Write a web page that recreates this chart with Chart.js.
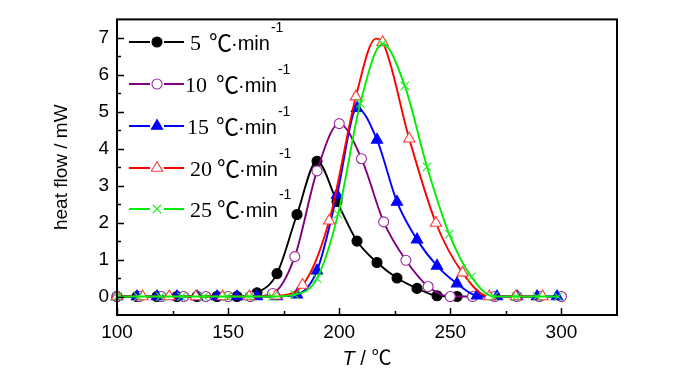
<!DOCTYPE html>
<html><head><meta charset="utf-8">
<script src="https://cdn.jsdelivr.net/npm/chart.js@4.4.1/dist/chart.umd.min.js"></script>
<style>html,body{margin:0;padding:0;background:#fff;}canvas{display:block;}</style>
</head><body>
<canvas id="c" width="700" height="374"></canvas>
<script>
// ---- data ----
const rateLabels = ['5', '10', '15', '20', '25'];
const xTickValues = [100, 150, 200, 250, 300];
const yTickValues = [0, 1, 2, 3, 4, 5, 6, 7];

const t5  = [100,109,118,127,136,145,154,163,172,181,190,199,208,217,226,235,244,253];
const v5  = [0,0,0,0,0,0,0,0.1,0.62,2.22,3.66,2.57,1.5,0.92,0.5,0.22,0.02,0];

const t10 = [100,110,120,130,140,150,160,170,180,190,200,210,220,230,240,250,260,270,280,290,300];
const v10 = [0,0,0,0,0,0,0,0.08,1.08,3.4,4.68,3.73,2.02,0.98,0.27,0,0,0,0,0,0];

const t15 = [100,109,118,127,136,145,154,163,172,181,190,199,208,217,226,235,244,253,262,271,280,289,298];
const v15 = [0,0,0,0,0,0,0,0,0,0.05,0.7,2.75,5.1,4.24,2.56,1.54,0.83,0.35,0.02,0,0,0,0];

const t20 = [100,111.5,123.5,135.5,147.5,159.5,171.5,183.5,195.5,207.5,219.5,231.5,243.5,255.5,267.5,279.5,291.5];
const v20 = [0,0,0,0,0,0,0.02,0.31,2.05,5.41,6.88,4.27,1.99,0.64,0,0,0];
const t20line = [216.5];
const v20line = [6.98];

const t25 = [100,109.5,119.5,129,139,149.5,159.5,170,180,190,199.5,209.5,219.5,229.5,239.5,249.5,259.5,269.5,279.5,289,298.5];
const v25 = [0,0,0,0,0,0,0,0,0.05,0.49,2.23,5.23,6.84,5.7,3.51,1.69,0.53,0,0,0,0];

// ---- styles ----
const series = [
  {t:t5,  v:v5,  lt:[], lv:[], color:'#000000', style:'circle',   fill:'#000000', border:'#000000', r:5},
  {t:t10, v:v10, lt:[], lv:[], color:'#800080', style:'circle',   fill:'#ffffff', border:'#9a2a9a', r:5},
  {t:t15, v:v15, lt:[], lv:[], color:'#0000ff', style:'triangle', fill:'#0000ff', border:'#0000ff', r:6.5},
  {t:t20, v:v20, lt:t20line, lv:v20line, color:'#ff0000', style:'triangle', fill:'#ffffff', border:'#ff3a3a', r:6.5},
  {t:t25, v:v25, lt:[], lv:[], color:'#00ee00', style:'crossRot', fill:'#00ee00', border:'#22ee22', r:6}
];

const datasets = [];
series.forEach((s, i) => {
  const linePts = s.t.map((x, k) => ({x, y: s.v[k]}))
    .concat(s.lt.map((x, k) => ({x, y: s.lv[k]})))
    .sort((a, b) => a.x - b.x);
  datasets.push({
    data: linePts, showLine: true, borderColor: s.color, borderWidth: 1.9,
    pointRadius: 0, cubicInterpolationMode: 'monotone', fill: false,
    order: 20 - 2 * i
  });
  datasets.push({
    data: s.t.map((x, k) => ({x, y: s.v[k]})), showLine: false,
    pointStyle: s.style, pointRadius: s.r, pointBackgroundColor: s.fill,
    pointBorderColor: s.border, pointBorderWidth: 1.1, clip: false,
    order: 19 - 2 * i
  });
});

function midpoints(arr) {
  const out = [];
  for (let i = 0; i < arr.length - 1; i++) out.push((arr[i] + arr[i + 1]) / 2);
  return out;
}

function drawMarker(ctx, s, x, y) {
  ctx.save();
  ctx.fillStyle = s.fill; ctx.strokeStyle = s.border; ctx.lineWidth = 1.1;
  ctx.beginPath();
  const r = s.r;
  if (s.style === 'circle') {
    ctx.arc(x, y, r, 0, Math.PI * 2); ctx.fill(); ctx.stroke();
  } else if (s.style === 'triangle') {
    ctx.moveTo(x, y - r);
    ctx.lineTo(x + r * 0.866, y + r / 2);
    ctx.lineTo(x - r * 0.866, y + r / 2);
    ctx.closePath(); ctx.fill(); ctx.stroke();
  } else {
    const d = r * 0.7071;
    ctx.moveTo(x - d, y - d); ctx.lineTo(x + d, y + d);
    ctx.moveTo(x + d, y - d); ctx.lineTo(x - d, y + d);
    ctx.stroke();
  }
  ctx.restore();
}

const overlay = {
  id: 'overlay',
  afterDatasetsDraw(chart) {
    const ctx = chart.ctx, a = chart.chartArea;
    const xs = chart.scales.x, ys = chart.scales.y;
    ctx.save();
    ctx.strokeStyle = '#000'; ctx.lineWidth = 1.5;
    ctx.beginPath();
    xTickValues.forEach(v => { const p = Math.round(xs.getPixelForValue(v)) + 0.5; ctx.moveTo(p, a.bottom); ctx.lineTo(p, a.bottom - 7); });
    midpoints(xTickValues).forEach(v => { const p = Math.round(xs.getPixelForValue(v)) + 0.5; ctx.moveTo(p, a.bottom); ctx.lineTo(p, a.bottom - 4); });
    yTickValues.forEach(v => { const p = Math.round(ys.getPixelForValue(v)) + 0.5; ctx.moveTo(a.left, p); ctx.lineTo(a.left + 7, p); });
    midpoints(yTickValues).forEach(v => { const p = Math.round(ys.getPixelForValue(v)) + 0.5; ctx.moveTo(a.left, p); ctx.lineTo(a.left + 4, p); });
    ctx.stroke();
    ctx.lineWidth = 2;
    ctx.strokeRect(a.left, a.top, a.right - a.left, a.bottom - a.top);
    ctx.restore();
  },
  afterDraw(chart) {
    const ctx = chart.ctx, a = chart.chartArea;
    ctx.save();
    ctx.fillStyle = '#000';
    ctx.save();
    ctx.translate(62, (a.top + a.bottom) / 2);
    ctx.rotate(-Math.PI / 2);
    ctx.font = '19px "Liberation Sans", Arial, sans-serif';
    ctx.textAlign = 'center'; ctx.textBaseline = 'middle';
    ctx.fillText('heat flow / mW', 0, 0);
    ctx.restore();
    ctx.textBaseline = 'alphabetic'; ctx.textAlign = 'left';
    const fT = 'italic 20px "Liberation Sans", Arial, sans-serif';
    const fS = '20px "Liberation Sans", Arial, sans-serif';
    const fC = '20px "Noto Sans CJK SC", sans-serif';
    ctx.font = fT; const wT = ctx.measureText('T').width;
    ctx.font = fS; const wS = ctx.measureText(' / ').width;
    ctx.font = fC; const wC = ctx.measureText('℃').width;
    let x0 = (a.left + a.right) / 2 - (wT + wS + wC) / 2;
    const by = 365;
    ctx.font = fT; ctx.fillText('T', x0, by); x0 += wT;
    ctx.font = fS; ctx.fillText(' / ', x0, by); x0 += wS;
    ctx.font = fC; ctx.fillText('℃', x0, by);
    const rowY = [42, 84, 126, 168, 209];
    const numX = [190, 185, 187, 190, 190];
    const degX = [209, 216, 216, 217, 217];
    series.forEach((s, i) => {
      const y = rowY[i];
      ctx.save();
      ctx.strokeStyle = s.color; ctx.lineWidth = 1.9;
      ctx.beginPath();
      ctx.moveTo(129, y); ctx.lineTo(150, y);
      ctx.moveTo(164, y); ctx.lineTo(184, y);
      ctx.stroke();
      ctx.restore();
      drawMarker(ctx, s, 157, y);
      const base = y + 8;
      ctx.fillStyle = '#000';
      ctx.font = '22px "Liberation Serif", "Times New Roman", serif';
      ctx.fillText(rateLabels[i], numX[i], base);
      ctx.font = '23px "Noto Sans CJK SC", sans-serif';
      ctx.fillText('℃', degX[i], base + 1);
      ctx.font = '20px "Liberation Sans", Arial, sans-serif';
      const dm = '·min';
      ctx.fillText(dm, degX[i] + 22, base);
      const wdm = ctx.measureText(dm).width;
      ctx.font = '14px "Liberation Sans", Arial, sans-serif';
      ctx.fillText('-1', degX[i] + 22 + wdm + 1, y - 10);
    });
    ctx.restore();
  }
};

new Chart(document.getElementById('c'), {
  type: 'scatter',
  data: { datasets },
  options: {
    responsive: false, animation: false, devicePixelRatio: 1,
    layout: { padding: { top: 17, right: 83, left: 0, bottom: 0 } },
    plugins: { legend: { display: false }, tooltip: { enabled: false } },
    scales: {
      x: {
        type: 'linear', min: 100, max: 325,
        afterBuildTicks: sc => { sc.ticks = xTickValues.map(v => ({value: v})); },
        afterFit: sc => { sc.height = 59; },
        grid: { display: false, drawTicks: false },
        border: { display: false },
        ticks: { color: '#000', padding: 6, maxRotation: 0, font: { family: '"Liberation Sans", Arial, sans-serif', size: 19 } }
      },
      y: {
        type: 'linear', min: -0.5, max: 7.5,
        afterBuildTicks: sc => { sc.ticks = yTickValues.map(v => ({value: v})); },
        afterFit: sc => { sc.width = 117; },
        grid: { display: false, drawTicks: false },
        border: { display: false },
        ticks: { color: '#000', padding: 8, font: { family: '"Liberation Sans", Arial, sans-serif', size: 19 } }
      }
    }
  },
  plugins: [overlay]
});
</script>
</body></html>
